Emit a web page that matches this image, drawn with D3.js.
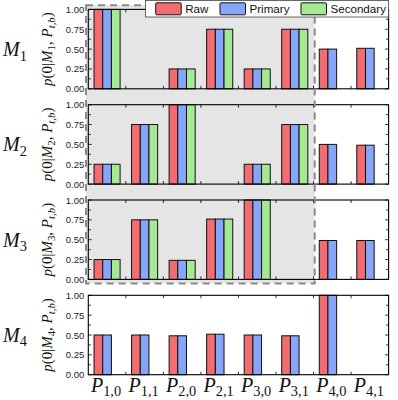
<!DOCTYPE html>
<html><head><meta charset="utf-8">
<script src="https://cdn.jsdelivr.net/npm/d3@7"></script>
<style>body{margin:0;background:#fff} svg{display:block}</style>
</head><body>
<svg id="c" width="398" height="400"></svg>
<script>
// ---- data ----
const categories = ["1,0","1,1","2,0","2,1","3,0","3,1","4,0","4,1"];
const models = ["1","2","3","4"];
const seriesNames = ["Raw","Primary","Secondary"];
const rawValues = [
  [1.00, 0, 0.25, 0.75, 0.25, 0.75, 0.50, 0.51],
  [0.25, 0.75, 1.00, 0, 0.25, 0.75, 0.50, 0.49],
  [0.25, 0.75, 0.24, 0.76, 1.00, 0, 0.49, 0.49],
  [0.50, 0.50, 0.49, 0.51, 0.50, 0.49, 1.00, 0]
];
const primaryValues = [
  [1.00, 0, 0.25, 0.75, 0.25, 0.75, 0.50, 0.51],
  [0.25, 0.75, 1.00, 0, 0.25, 0.75, 0.50, 0.49],
  [0.25, 0.75, 0.24, 0.76, 1.00, 0, 0.49, 0.49],
  [0.50, 0.50, 0.49, 0.51, 0.50, 0.49, 1.00, 0]
];
const secondaryValues = [
  [1.00, 0, 0.25, 0.75, 0.25, 0.75, null, null],
  [0.25, 0.75, 1.00, 0, 0.25, 0.75, null, null],
  [0.25, 0.75, 0.24, 0.76, 1.00, 0, null, null],
  [null, null, null, null, null, null, null, null]
];
const yTickValues = [0, 0.25, 0.5, 0.75, 1.0];
const yMinorTickValues = [0.125, 0.375, 0.625, 0.875];
const seriesColors = ["#f26d71", "#87a6f9", "#a6e894"];
const shadedCategories = ["1,0","1,1","2,0","2,1","3,0","3,1"];
const shadedModels = ["1","2","3"];

// ---- layout ----
const svg = d3.select("#c");
const left = 88.3, right = 388.6;
const panelTop0 = 9.4, panelStep = 95.3, panelH = 79.4;
const serif = "'Liberation Serif','DejaVu Serif',serif";
const sans = "'Liberation Sans',Arial,Helvetica,sans-serif";

const x = d3.scaleBand().domain(categories).range([left, right]).padding(0);
const xs = d3.scaleBand().domain(seriesNames).range([0, x.bandwidth()])
  .paddingInner(0).paddingOuter(0.66);

const seriesData = [rawValues, primaryValues, secondaryValues];

function yScale(i) {
  const top = panelTop0 + i * panelStep;
  return d3.scaleLinear().domain([0, 1]).range([top + panelH, top]);
}

// math text helper
function mathText(sel, parts, size) {
  parts.forEach(p => {
    const t = sel.append("tspan").text(p.t)
      .attr("font-style", p.it ? "italic" : "normal");
    if (p.sub) {
      t.attr("font-size", size * 0.72).attr("dy", size * 0.22);
    } else if (p.after) {
      t.attr("dy", -size * 0.22);
    }
  });
}

// ---- shaded region ----
const sy1 = yScale(0), sy3 = yScale(2);
const shadeX0 = x(shadedCategories[0]) - 2.3;
const shadeX1 = x(shadedCategories[shadedCategories.length - 1]) + x.bandwidth() + 1.2;
const shadeY0 = sy1(1) - 4.2;
const shadeY1 = sy3(0) + 4;
svg.append("rect")
  .attr("x", shadeX0).attr("y", shadeY0)
  .attr("width", shadeX1 - shadeX0).attr("height", shadeY1 - shadeY0)
  .attr("fill", "#e5e5e5");

// ---- panels ----
models.forEach((m, i) => {
  const y = yScale(i);
  const g = svg.append("g");
  // bars
  seriesNames.forEach((s, si) => {
    const vals = seriesData[si][i];
    g.selectAll(null)
      .data(categories.map((c, ci) => ({c, v: vals[ci]})).filter(d => d.v !== null))
      .join("rect")
      .attr("x", d => x(d.c) + xs(s))
      .attr("y", d => y(d.v))
      .attr("width", xs.bandwidth())
      .attr("height", d => y(0) - y(d.v))
      .attr("fill", seriesColors[si])
      .attr("stroke", "#111")
      .attr("stroke-width", 1);
  });
  // frame
  g.append("rect")
    .attr("x", left).attr("y", y(1))
    .attr("width", right - left).attr("height", y(0) - y(1))
    .attr("fill", "none").attr("stroke", "#000").attr("stroke-width", 1.1);

  // left axis labels
  const ax = g.append("g").attr("transform", `translate(${left},0)`)
    .call(d3.axisLeft(y).tickValues(yTickValues).tickFormat(d3.format(".2f"))
      .tickSize(0).tickPadding(4));
  ax.select(".domain").remove();
  ax.selectAll("text").attr("font-family", sans).attr("font-size", 9.5).attr("fill", "#222");
  // inward y ticks left & right
  const allY = yTickValues.concat(yMinorTickValues);
  g.selectAll(null).data(allY).join("line")
    .attr("x1", left).attr("x2", d => left + (yTickValues.includes(d) ? 3.5 : 2.5))
    .attr("y1", d => y(d)).attr("y2", d => y(d))
    .attr("stroke", "#000").attr("stroke-width", 0.8);
  g.selectAll(null).data(allY).join("line")
    .attr("x1", right).attr("x2", d => right - (yTickValues.includes(d) ? 3.5 : 2.5))
    .attr("y1", d => y(d)).attr("y2", d => y(d))
    .attr("stroke", "#000").attr("stroke-width", 0.8);
  // x ticks at category boundaries, top & bottom, inward
  const bounds = categories.slice(1).map(c => x(c));
  g.selectAll(null).data(bounds).join("line")
    .attr("x1", d => d).attr("x2", d => d)
    .attr("y1", y(0)).attr("y2", y(0) - 3)
    .attr("stroke", "#000").attr("stroke-width", 0.8);
  g.selectAll(null).data(bounds).join("line")
    .attr("x1", d => d).attr("x2", d => d)
    .attr("y1", y(1)).attr("y2", y(1) + 3)
    .attr("stroke", "#000").attr("stroke-width", 0.8);

  // M label
  const mt = svg.append("text")
    .attr("x", 3).attr("y", (y(0) + y(1)) / 2 + 7)
    .attr("font-family", serif).attr("font-size", 20).attr("fill", "#111");
  mathText(mt, [{t: "M", it: true}, {t: m, sub: true}], 20);

  // y label (rotated)
  const ycx = 52, ycy = (y(0) + y(1)) / 2;
  const yl = svg.append("text")
    .attr("transform", `translate(${ycx},${ycy}) rotate(-90)`)
    .attr("text-anchor", "middle")
    .attr("font-family", serif).attr("font-size", 15).attr("fill", "#111");
  mathText(yl, [
    {t: "p", it: true}, {t: "(0|"}, {t: "M", it: true}, {t: m, sub: true},
    {t: ", ", after: true}, {t: "P", it: true}, {t: "t,b", it: true, sub: true},
    {t: ")", after: true}
  ], 15);
});

// x labels
const bottomY = yScale(3)(0);
categories.forEach(c => {
  const t = svg.append("text")
    .attr("x", x(c) + x.bandwidth() / 2 - 1)
    .attr("y", bottomY + 17)
    .attr("text-anchor", "middle")
    .attr("font-family", serif).attr("font-size", 20).attr("fill", "#111");
  mathText(t, [{t: "P", it: true}, {t: c, sub: true}], 20);
});

// dashed border of shaded region
svg.append("rect")
  .attr("x", shadeX0).attr("y", shadeY0)
  .attr("width", shadeX1 - shadeX0).attr("height", shadeY1 - shadeY0)
  .attr("fill", "none").attr("stroke", "#8a8a8a").attr("stroke-width", 2)
  .attr("stroke-dasharray", "7,5");

// legend
const lg = svg.append("g");
lg.append("rect").attr("x", 145.5).attr("y", 0.5).attr("width", 243).attr("height", 16.5)
  .attr("fill", "#fff").attr("stroke", "#444").attr("stroke-width", 0.8);
const legX = [155.7, 220, 301];
seriesNames.forEach((s, i) => {
  lg.append("rect").attr("x", legX[i]).attr("y", 2.8).attr("width", 25.5).attr("height", 12)
    .attr("rx", 1).attr("fill", seriesColors[i]).attr("stroke", "#111").attr("stroke-width", 1);
  lg.append("text").attr("x", legX[i] + 29.5).attr("y", 13)
    .attr("font-family", sans).attr("font-size", 11.6).attr("fill", "#111").text(s);
});
</script>
</body></html>
